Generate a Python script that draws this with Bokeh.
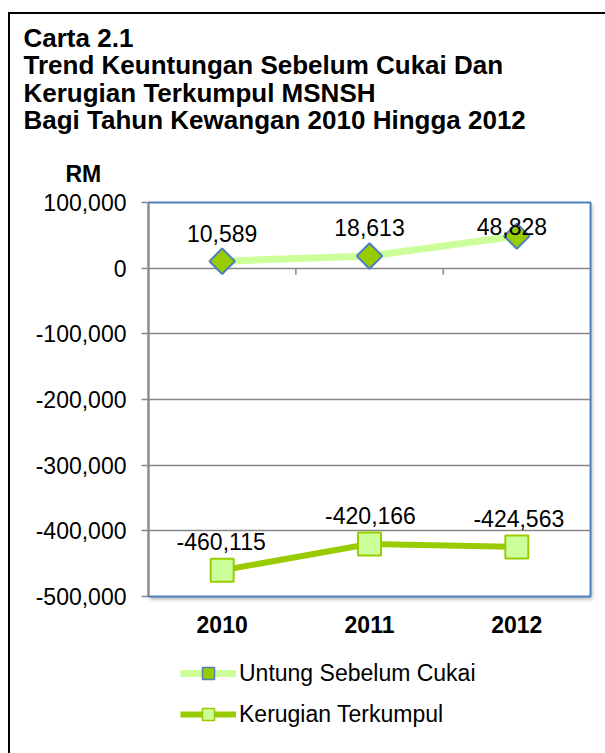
import math
import numpy as np
from bokeh.plotting import figure
from bokeh.layouts import column
from bokeh.models import (Range1d, FixedTicker, NumeralTickFormatter, Label, Legend,
                          LegendItem, InlineStyleSheet)
from bokeh.core.properties import value
from bokeh.embed import file_html
from bokeh.resources import INLINE

# ---------------- data ----------------
years = ["2010", "2011", "2012"]
untung = [10589, 18613, 48828]
kerugian = [-460115, -420166, -424563]
y_ticks = [100000, 0, -100000, -200000, -300000, -400000, -500000]
series_names = ["Untung Sebelum Cukai", "Kerugian Terkumpul"]
title_lines = ["Carta 2.1",
               "Trend Keuntungan Sebelum Cukai Dan",
               "Kerugian Terkumpul MSNSH",
               "Bagi Tahun Kewangan 2010 Hingga 2012"]
y_unit = "RM"

# ---------------- layout / style ----------------
FONT = "Liberation Sans"
W, H = 605, 753
TOP_H = 186            # height of the title strip
LEG_H = 103            # height of the legend strip
MAIN_H = H - TOP_H - LEG_H
FL, FW, FH = 148, 442, 394
FT = 202 - TOP_H       # frame top inside the main figure
FB = FT + FH

GRID = "#868686"
BLUE = "#4F81BD"
LIGHT = "#CCFF99"
GREEN = "#99CC00"


def no_align(fig):
    try:
        fig.frame_align = False
    except Exception:
        pass


def bare(fig):
    fig.xgrid.visible = False
    fig.ygrid.visible = False
    fig.outline_line_color = None
    fig.background_fill_alpha = 0
    fig.border_fill_alpha = 0
    no_align(fig)


# ---------------- title strip ----------------
top = figure(width=W, height=TOP_H, x_range=Range1d(0, W), y_range=Range1d(0, TOP_H),
             x_axis_location=None, y_axis_location=None, min_border=0,
             output_backend="svg", toolbar_location=None)
bare(top)
for txt, b in zip(title_lines, [37, 64, 92, 119]):
    top.add_layout(Label(x=23, y=TOP_H - b, x_units="screen", y_units="screen",
                         text=txt, text_font=FONT, text_font_size="26px",
                         text_font_style="bold", text_color="black",
                         text_baseline="alphabetic", text_align="left"))
top.add_layout(Label(x=65, y=TOP_H - 173, x_units="screen", y_units="screen",
                     text=y_unit, text_font=FONT, text_font_size="23px",
                     text_font_style="bold", text_color="black",
                     text_baseline="alphabetic", text_align="left"))

# ---------------- main chart ----------------
xs = [i + 0.5 for i in range(len(years))]

p = figure(frame_width=FW, frame_height=FH,
           min_border_left=FL, min_border_top=FT,
           min_border_right=W - FL - FW, min_border_bottom=MAIN_H - FB,
           x_range=Range1d(0, len(years)),
           y_range=Range1d(min(y_ticks), max(y_ticks)),
           output_backend="svg", toolbar_location=None)
no_align(p)
p.title = None
p.background_fill_color = "white"
p.border_fill_alpha = 0
p.outline_line_color = BLUE
p.outline_line_width = 2

p.xgrid.visible = False
p.ygrid.ticker = FixedTicker(ticks=y_ticks)
p.ygrid.grid_line_color = GRID
p.ygrid.grid_line_width = 1.5

ya = p.yaxis[0]
ya.ticker = FixedTicker(ticks=y_ticks)
ya.formatter = NumeralTickFormatter(format="0,0")
ya.axis_line_color = GRID
ya.axis_line_width = 1.5
ya.major_tick_line_color = GRID
ya.major_tick_line_width = 1.5
ya.major_tick_in = 0
ya.major_tick_out = 7
ya.minor_tick_line_color = None
ya.major_label_text_font = FONT
ya.major_label_text_font_size = "23px"
ya.major_label_text_color = "black"
ya.major_label_standoff = 15

xa = p.xaxis[0]
xa.ticker = FixedTicker(ticks=xs)
xa.major_label_overrides = {x: y for x, y in zip(xs, years)}
xa.axis_line_color = None
xa.major_tick_line_color = None
xa.minor_tick_line_color = None
xa.major_label_text_font = FONT
xa.major_label_text_font_size = "23px"
xa.major_label_text_font_style = "bold"
xa.major_label_text_color = "black"
xa.major_label_standoff = 13

# category boundary ticks on the zero line
bounds = list(range(1, len(years)))
p.segment(x0=bounds, x1=bounds, y0=[0] * len(bounds), y1=[-10000] * len(bounds),
          line_color=GRID, line_width=1.5)

# series
LINE1 = dict(line_color=LIGHT, line_width=7)
MARK1 = dict(marker="square", angle=math.pi / 4, size=18,
             fill_color=GREEN, line_color=BLUE, line_width=2)
LINE2 = dict(line_color=GREEN, line_width=6)
MARK2 = dict(marker="square", size=23, fill_color=LIGHT, line_color=GREEN, line_width=2)

p.line(xs, untung, **LINE1)
p.scatter(xs, untung, **MARK1)
p.line(xs, kerugian, **LINE2)
p.scatter(xs, kerugian, **MARK2)

# data labels
up_dy = [28, 28, 10]
up_dx = [0, 0, -5]
lo_dy = [29, 29, 28]
lo_dx = [-1, 1, 2]
p.text(x=xs, y=untung, text=[f"{v:,}" for v in untung],
       x_offset=up_dx, y_offset=[-d for d in up_dy],
       text_align="center", text_baseline="alphabetic",
       text_font=value(FONT), text_font_size="23px", text_color="black")
p.text(x=xs, y=kerugian, text=[f"{v:,}" for v in kerugian],
       x_offset=lo_dx, y_offset=[-d for d in lo_dy],
       text_align="center", text_baseline="alphabetic",
       text_font=value(FONT), text_font_size="23px", text_color="black")

# plot-area drop shadow
p.stylesheets = [InlineStyleSheet(css=f"""
:host {{ position: relative; }}
:host::before {{
  content: ""; position: absolute; left: {FL}px; top: {FT}px;
  width: {FW}px; height: {FH}px;
  box-shadow: 2px 3px 4px rgba(0,0,0,0.35); pointer-events: none;
}}
""")]

# ---------------- legend strip ----------------
leg = figure(width=W, height=LEG_H, x_range=Range1d(0, 1), y_range=Range1d(0, 1),
             x_axis_location=None, y_axis_location=None, min_border=0,
             output_backend="svg", toolbar_location=None)
bare(leg)
nan = np.array([np.nan])
g1l = leg.line(x=nan, y=nan, **LINE1)
g1m = leg.scatter(x=nan, y=nan, **{**MARK1, "size": 17, "line_width": 1.5})
g2l = leg.line(x=nan, y=nan, **LINE2)
g2m = leg.scatter(x=nan, y=nan, **{**MARK2, "size": 14, "line_width": 1.5})
legend = Legend(items=[LegendItem(label=series_names[0], renderers=[g1l, g1m]),
                       LegendItem(label=series_names[1], renderers=[g2l, g2m])],
                location=(180, LEG_H - (658 - (H - LEG_H)) - 71),
                orientation="vertical",
                glyph_width=56, glyph_height=30, label_height=30, spacing=11,
                padding=0, margin=0, label_standoff=3,
                border_line_color=None, background_fill_alpha=0,
                label_text_font=FONT, label_text_font_size="23px",
                label_text_color="black")
leg.add_layout(legend)

layout = column(top, p, leg, spacing=0)
layout.stylesheets = [InlineStyleSheet(css=f"""
:host {{ position: relative; }}
:host::after {{
  content: ""; position: absolute; left: 8px; top: 12px;
  width: {W - 8}px; height: {H - 12}px; box-sizing: border-box;
  border-left: 2.5px solid black; border-top: 2.5px solid black;
  pointer-events: none;
}}
""")]

open("out.html", "w").write(file_html(layout, INLINE))
